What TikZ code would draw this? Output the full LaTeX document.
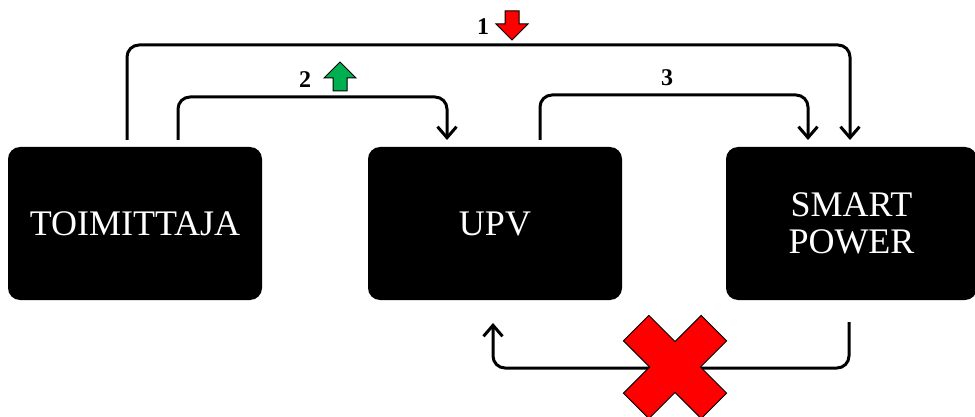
\documentclass[tikz,border=0pt]{standalone}
\usepackage{fontspec}
\setmainfont{Liberation Serif}
\usetikzlibrary{arrows.meta,calc}
\definecolor{arrgreen}{RGB}{0,176,80}
\begin{document}
\begin{tikzpicture}[x=1pt,y=-1pt,
  blk/.style={fill=black,rounded corners=12pt,minimum width=254pt,minimum height=153pt,text=white,font=\fontsize{36}{37}\selectfont,align=center,inner sep=0pt},
  conn/.style={line width=3pt,rounded corners=12pt,-{Straight Barb[length=11pt,width=19pt,line width=3pt]}},
  lbl/.style={font=\bfseries\fontsize{24}{25}\selectfont},
  blockarrow/.style={draw=black,line width=1pt,line join=miter}]
\useasboundingbox (0,0) rectangle (975,417);
\begin{scope}
\clip (0,0) rectangle (975,417);
\node[blk] (toim) at (135,223.5) {TOIMITTAJA};
\node[blk] (upv) at (495,223.5) {UPV};
\node[blk,minimum width=251pt] (smart) at (851.5,223.5) {SMART\\POWER};

\coordinate (s1) at (127,140);
\coordinate (e1) at (850,140);
\coordinate (s2) at (178,140);
\coordinate (e2) at (447,140);
\coordinate (s3) at (540,140);
\coordinate (e3) at (808,140);
\coordinate (s4) at (849,322);
\coordinate (e4) at (493,323);

\draw[conn] (s1) -- (s1 |- 0,45) -- (e1 |- 0,45) -- (e1);
\draw[conn] (s2) -- (s2 |- 0,97) -- (e2 |- 0,97) -- (e2);
\draw[conn] (s3) -- (s3 |- 0,95) -- (e3 |- 0,95) -- (e3);
\draw[conn] (s4) -- (s4 |- 0,368) -- (e4 |- 0,368) -- (e4);

\node[lbl] (l1) at (483,27) {1};
\node[lbl] (l2) at (305,80) {2};
\node[lbl] (l3) at (667,78) {3};

% red down arrow
\draw[blockarrow,fill=red] (505,11) -- (519,11) -- (519,24) -- (528,24) -- (512,40) -- (496,24) -- (505,24) -- cycle;
% green up arrow
\draw[blockarrow,fill=arrgreen] (333,91) -- (347,91) -- (347,78) -- (356,78) -- (340,62) -- (324,78) -- (333,78) -- cycle;

% red X
\draw[fill=red,line width=1pt,rotate around={45:(675,367)}]
  ($(675,367)+(-18,55)$) -- ++(36,0) -- ++(0,-37) -- ++(37,0) -- ++(0,-36) -- ++(-37,0) -- ++(0,-37)
  -- ++(-36,0) -- ++(0,37) -- ++(-37,0) -- ++(0,36) -- ++(37,0) -- cycle;
\end{scope}
\end{tikzpicture}
\end{document}
